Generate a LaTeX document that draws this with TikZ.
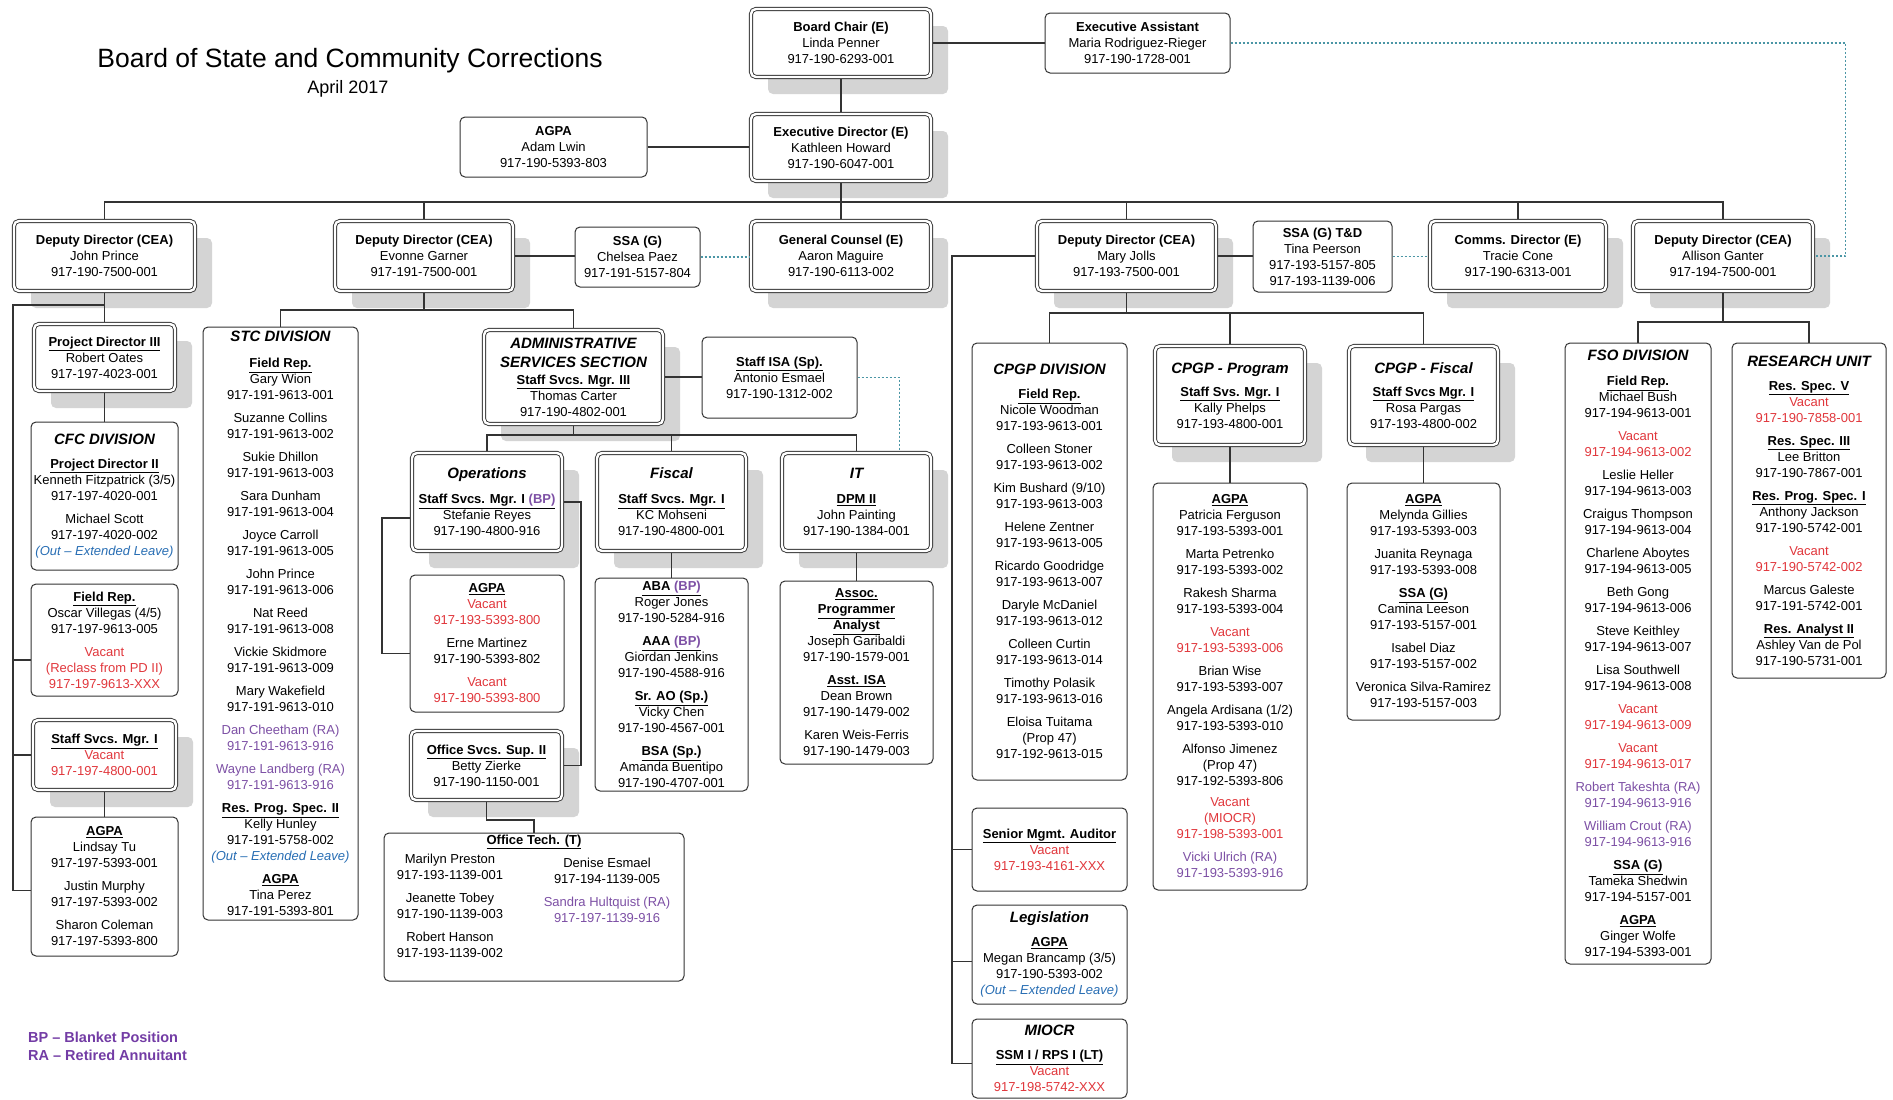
\documentclass[tikz,border=0pt]{standalone}
\usepackage{fontspec}
\setmainfont{Liberation Sans}
\usetikzlibrary{shadows}
\definecolor{vacred}{RGB}{225,55,60}
\definecolor{rapurple}{RGB}{125,80,165}
\definecolor{leaveblue}{RGB}{40,110,180}
\definecolor{linkteal}{RGB}{75,150,165}
\definecolor{legpurple}{RGB}{115,60,165}
\definecolor{shadowgray}{RGB}{212,212,212}
\newcommand\bodyfont{\fontsize{13}{16}\selectfont}
\newcommand\bh[1]{\textbf{#1}}
\newcommand\hd[1]{\underline{\textbf{#1}}}
\newcommand\ttl[1]{{\fontsize{15}{16}\selectfont\bfseries\itshape #1}}
\newcommand\vac[1]{\textcolor{vacred}{#1}}
\newcommand\ret[1]{\textcolor{rapurple}{#1}}
\newcommand\outleave{\textcolor{leaveblue}{\itshape (Out -- Extended Leave)}}
\tikzset{
  orgbox/.style 2 args={draw=black!80, line width=1pt, rounded corners=5pt, fill=white,
    align=center, inner sep=1pt, minimum width=#1, minimum height=#2, font=\bodyfont},
  dblbox/.style 2 args={orgbox={#1-4}{#2-4}, double=white, double distance=2.4pt,
    line width=0.9pt, outer sep=2.1pt,
    drop shadow={shadow xshift=17pt, shadow yshift=-17pt, fill=shadowgray, opacity=1}},
  txt/.style={align=center, inner sep=0pt, font=\bodyfont},
  legend/.style={anchor=base west, inner sep=0pt, text=legpurple,
    font=\fontsize{14.5}{17}\selectfont\bfseries},
  conn/.style={draw=black!80, line width=1.3pt},
  dotlink/.style={draw=linkteal, line width=1.3pt, dash pattern=on 2pt off 2pt},
}
\begin{document}
\begin{tikzpicture}[x=1pt,y=-1pt]
	\fill[white] (0,0) rectangle (1893,1100);
	\useasboundingbox (0,0) rectangle (1893,1100);
	\node[anchor=base, inner sep=0pt, font=\fontsize{26.5}{30}\selectfont] at (350,67) (title) {Board of State and Community Corrections};
	\node[anchor=base, inner sep=0pt, font=\fontsize{18}{20}\selectfont] at (348,93) (date) {April 2017};
	\node[legend] at (28,1042) (bp) {BP -- Blanket Position};
	\node[legend] at (28,1060) (ra) {RA -- Retired Annuitant};

	\node[dblbox={184}{72}] at (841,43) (bc) {\bh{Board Chair (E)}\\Linda Penner\\917-190-6293-001};
	\node[orgbox={185}{60}] at (1137.5,43) (ea) {\bh{Executive Assistant}\\Maria Rodriguez-Rieger\\917-190-1728-001};
	\node[dblbox={184}{71}] at (841,147.5) (ed) {\bh{Executive Director (E)}\\Kathleen Howard\\917-190-6047-001};
	\node[orgbox={187}{60}] at (553.5,147) (agpa0) {\bh{AGPA}\\Adam Lwin\\917-190-5393-803};

	\node[dblbox={185}{74}] at (104.5,256) (dd1) {\bh{Deputy Director (CEA)}\\John Prince\\917-190-7500-001};
	\node[dblbox={182}{74}] at (424,256) (dd2) {\bh{Deputy Director (CEA)}\\Evonne Garner\\917-191-7500-001};
	\node[orgbox={125}{60}] at (637.5,257) (ssa) {\bh{SSA (G)}\\Chelsea Paez\\917-191-5157-804};
	\node[dblbox={184}{74}] at (841,256) (gc) {\bh{General Counsel (E)}\\Aaron Maguire\\917-190-6113-002};
	\node[dblbox={183}{74}] at (1126.5,256) (dd3) {\bh{Deputy Director (CEA)}\\Mary Jolls\\917-193-7500-001};
	\node[orgbox={139}{71}] at (1322.5,256.5) (td) {\bh{SSA (G) T\&D}\\Tina Peerson\\917-193-5157-805\\917-193-1139-006};
	\node[dblbox={180}{74}] at (1518,256) (cd) {\bh{Comms. Director (E)}\\Tracie Cone\\917-190-6313-001};
	\node[dblbox={184}{74}] at (1723,256) (dd4) {\bh{Deputy Director (CEA)}\\Allison Ganter\\917-194-7500-001};

	\node[dblbox={145}{71}] at (104.5,357.5) (pd3) {\hd{Project Director III}\\Robert Oates\\917-197-4023-001};
	\node[orgbox={147}{148}] at (104.5,496) (cfc) {\ttl{CFC DIVISION}\\[8pt]\hd{Project Director II}\\Kenneth Fitzpatrick (3/5)\\917-197-4020-001\\[7pt]Michael Scott\\917-197-4020-002\\\outleave};
	\node[orgbox={147}{112}] at (104.5,640) (fr) {\hd{Field Rep.}\\Oscar Villegas (4/5)\\917-197-9613-005\\[7pt]\vac{Vacant}\\\vac{(Reclass from PD II)}\\\vac{917-197-9613-XXX}};
	\node[dblbox={147}{74}] at (104.5,755) (ssm) {\hd{Staff Svcs. Mgr. I}\\\vac{Vacant}\\\vac{917-197-4800-001}};
	\node[orgbox={147}{139}] at (104.5,886.5) (agpa1) {\hd{AGPA}\\Lindsay Tu\\917-197-5393-001\\[7pt]Justin Murphy\\917-197-5393-002\\[7pt]Sharon Coleman\\917-197-5393-800};

	\node[orgbox={155}{593}] at (280.5,623.5) (stc) {\ttl{STC DIVISION}\\[10pt]\hd{Field Rep.}\\Gary Wion\\917-191-9613-001\\[7pt]Suzanne Collins\\917-191-9613-002\\[7pt]Sukie Dhillon\\917-191-9613-003\\[7pt]Sara Dunham\\917-191-9613-004\\[7pt]Joyce Carroll\\917-191-9613-005\\[7pt]John Prince\\917-191-9613-006\\[7pt]Nat Reed\\917-191-9613-008\\[7pt]Vickie Skidmore\\917-191-9613-009\\[7pt]Mary Wakefield\\917-191-9613-010\\[7pt]\ret{Dan Cheetham (RA)}\\\ret{917-191-9613-916}\\[7pt]\ret{Wayne Landberg (RA)}\\\ret{917-191-9613-916}\\[7pt]\hd{Res. Prog. Spec. II}\\Kelly Hunley\\917-191-5758-002\\\outleave\\[7pt]\hd{AGPA}\\Tina Perez\\917-191-5393-801};

	\node[dblbox={183}{98}] at (573.5,377) (adm) {\ttl{ADMINISTRATIVE}\\[3pt]\ttl{SERVICES SECTION}\\[1pt]\hd{Staff Svcs. Mgr. III}\\Thomas Carter\\917-190-4802-001};
	\node[orgbox={155}{81}] at (779.5,377.5) (isa) {\hd{Staff ISA (Sp).}\\Antonio Esmael\\917-190-1312-002};
	\node[dblbox={154}{102}] at (487,502) (ops) {\ttl{Operations}\\[9pt]\hd{Staff Svcs. Mgr. I \ret{(BP)}}\\Stefanie Reyes\\917-190-4800-916};
	\node[dblbox={153}{102}] at (671.5,502) (fis) {\ttl{Fiscal}\\[9pt]\hd{Staff Svcs. Mgr. I}\\KC Mohseni\\917-190-4800-001};
	\node[dblbox={153}{102}] at (856.5,502) (it) {\ttl{IT}\\[9pt]\hd{DPM II}\\John Painting\\917-190-1384-001};
	\node[orgbox={154}{137}] at (487,643.5) (opsa) {\hd{AGPA}\\\vac{Vacant}\\\vac{917-193-5393-800}\\[7pt]Erne Martinez\\917-190-5393-802\\[7pt]\vac{Vacant}\\\vac{917-190-5393-800}};
	\node[orgbox={153}{213}] at (671.5,684.5) (fisl) {\hd{ABA \ret{(BP)}}\\Roger Jones\\917-190-5284-916\\[7pt]\hd{AAA \ret{(BP)}}\\Giordan Jenkins\\917-190-4588-916\\[7pt]\hd{Sr. AO (Sp.)}\\Vicky Chen\\917-190-4567-001\\[7pt]\hd{BSA (Sp.)}\\Amanda Buentipo\\917-190-4707-001};
	\node[orgbox={153}{183}] at (856.5,672.5) (itl) {\hd{Assoc.}\\\hd{Programmer}\\\hd{Analyst}\\Joseph Garibaldi\\917-190-1579-001\\[7pt]\hd{Asst. ISA}\\Dean Brown\\917-190-1479-002\\[7pt]Karen Weis-Ferris\\917-190-1479-003};
	\node[dblbox={155}{73}] at (486.5,765.5) (osup) {\hd{Office Svcs. Sup. II}\\Betty Zierke\\917-190-1150-001};
	\node[orgbox={300}{148}] at (534,907) (otech) {};
	\node[txt] at (534,842) (otech-h) {\hd{Office Tech. (T)}};
	\node[txt] at (450,906) (otech-l) {Marilyn Preston\\917-193-1139-001\\[7pt]Jeanette Tobey\\917-190-1139-003\\[7pt]Robert Hanson\\917-193-1139-002};
	\node[txt] at (607,890) (otech-r) {Denise Esmael\\917-194-1139-005\\[7pt]\ret{Sandra Hultquist (RA)}\\\ret{917-197-1139-916}};

	\node[orgbox={155}{437}] at (1049.5,561.5) (cpgp) {\ttl{CPGP DIVISION}\\[8pt]\hd{Field Rep.}\\Nicole Woodman\\917-193-9613-001\\[7pt]Colleen Stoner\\917-193-9613-002\\[7pt]Kim Bushard (9/10)\\917-193-9613-003\\[7pt]Helene Zentner\\917-193-9613-005\\[7pt]Ricardo Goodridge\\917-193-9613-007\\[7pt]Daryle McDaniel\\917-193-9613-012\\[7pt]Colleen Curtin\\917-193-9613-014\\[7pt]Timothy Polasik\\917-193-9613-016\\[7pt]Eloisa Tuitama\\(Prop 47)\\917-192-9613-015};
	\node[dblbox={154}{103}] at (1230,395.5) (prg) {\ttl{CPGP - Program}\\[7pt]\hd{Staff Svs. Mgr. I}\\Kally Phelps\\917-193-4800-001};
	\node[orgbox={154}{407}] at (1230,686.5) (prgl) {\hd{AGPA}\\Patricia Ferguson\\917-193-5393-001\\[7pt]Marta Petrenko\\917-193-5393-002\\[7pt]Rakesh Sharma\\917-193-5393-004\\[7pt]\vac{Vacant}\\\vac{917-193-5393-006}\\[7pt]Brian Wise\\917-193-5393-007\\[7pt]Angela Ardisana (1/2)\\917-193-5393-010\\[7pt]Alfonso Jimenez\\(Prop 47)\\917-192-5393-806\\[5pt]\vac{Vacant}\\\vac{(MIOCR)}\\\vac{917-198-5393-001}\\[7pt]\ret{Vicki Ulrich (RA)}\\\ret{917-193-5393-916}};
	\node[dblbox={153}{103}] at (1423.5,395.5) (cfis) {\ttl{CPGP - Fiscal}\\[7pt]\hd{Staff Svcs Mgr. I}\\Rosa Pargas\\917-193-4800-002};
	\node[orgbox={153}{237}] at (1423.5,601.5) (cfisl) {\hd{AGPA}\\Melynda Gillies\\917-193-5393-003\\[7pt]Juanita Reynaga\\917-193-5393-008\\[7pt]\hd{SSA (G)}\\Camina Leeson\\917-193-5157-001\\[7pt]Isabel Diaz\\917-193-5157-002\\[7pt]Veronica Silva-Ramirez\\917-193-5157-003};
	\node[orgbox={155}{83}] at (1049.5,849.5) (sma) {\hd{Senior Mgmt. Auditor}\\\vac{Vacant}\\\vac{917-193-4161-XXX}};
	\node[orgbox={155}{99}] at (1049.5,954.5) (leg) {\ttl{Legislation}\\[8pt]\hd{AGPA}\\Megan Brancamp (3/5)\\917-190-5393-002\\\outleave};
	\node[orgbox={155}{79}] at (1049.5,1058.5) (mio) {\ttl{MIOCR}\\[8pt]\hd{SSM I / RPS I (LT)}\\\vac{Vacant}\\\vac{917-198-5742-XXX}};

	\node[orgbox={146}{621}] at (1638,653.5) (fso) {\ttl{FSO DIVISION}\\[9pt]\hd{Field Rep.}\\Michael Bush\\917-194-9613-001\\[7pt]\vac{Vacant}\\\vac{917-194-9613-002}\\[7pt]Leslie Heller\\917-194-9613-003\\[7pt]Craigus Thompson\\917-194-9613-004\\[7pt]Charlene Aboytes\\917-194-9613-005\\[7pt]Beth Gong\\917-194-9613-006\\[7pt]Steve Keithley\\917-194-9613-007\\[7pt]Lisa Southwell\\917-194-9613-008\\[7pt]\vac{Vacant}\\\vac{917-194-9613-009}\\[7pt]\vac{Vacant}\\\vac{917-194-9613-017}\\[7pt]\ret{Robert Takeshta (RA)}\\\ret{917-194-9613-916}\\[7pt]\ret{William Crout (RA)}\\\ret{917-194-9613-916}\\[7pt]\hd{SSA (G)}\\Tameka Shedwin\\917-194-5157-001\\[7pt]\hd{AGPA}\\Ginger Wolfe\\917-194-5393-001};
	\node[orgbox={154}{335}] at (1809,510.5) (res) {\ttl{RESEARCH UNIT}\\[8pt]\hd{Res. Spec. V}\\\vac{Vacant}\\\vac{917-190-7858-001}\\[7pt]\hd{Res. Spec. III}\\Lee Britton\\917-190-7867-001\\[7pt]\hd{Res. Prog. Spec. I}\\Anthony Jackson\\917-190-5742-001\\[7pt]\vac{Vacant}\\\vac{917-190-5742-002}\\[7pt]Marcus Galeste\\917-191-5742-001\\[7pt]\hd{Res. Analyst II}\\Ashley Van de Pol\\917-190-5731-001};

	\coordinate (bar1) at (841,202);
	\coordinate (bar2) at (424,310);
	\coordinate (bar3) at (573.5,435);
	\coordinate (bar4) at (1126.5,313);
	\coordinate (bar5) at (1723,322);
	\coordinate (rail1) at (13,305);
	\coordinate (rail2) at (952,256);
	\coordinate (frj) at ([yshift=-20pt]fr.west);
	\coordinate (legj) at ([yshift=-7pt]leg.west);

	\draw[conn] (bc) -- (ed);
	\draw[conn] (bc) -- (ea);
	\draw[conn] (agpa0.east) -- (agpa0.east -| ed.west);
	\draw[conn] (ed) -- (gc);
	\draw[conn] (dd1.north) |- (bar1) -| (dd4.north);
	\foreach \n in {dd2,dd3,cd}
		\draw[conn] (\n.north) -- (\n.north |- bar1);
	\draw[conn] (dd2.east) -- (dd2.east -| ssa.west);
	\draw[dotlink] (ssa.east) -- (ssa.east -| gc.west);
	\draw[conn] (dd3.east) -- (dd3.east -| td.west);
	\draw[dotlink] (td.east) -- (td.east -| cd.west);
	\draw[dotlink] (ea.east) -- ++(615,0) |- (dd4.east);

	\draw[conn] (dd1) -- (pd3);
	\draw[conn] (pd3) -- (cfc);
	\draw[conn] (ssm) -- (agpa1);
	\draw[conn] (rail1 -| dd1.south) -- (rail1) |- ([yshift=-4pt]agpa1.west);
	\draw[conn] (rail1 |- ssm.west) -- (ssm.west);
	\draw[conn] (frj -| rail1) -- (frj);

	\draw[conn] (dd2.south) -- (bar2);
	\draw[conn] (stc.north) |- (bar2) -| (adm.north);
	\draw[conn] (adm.east) -- (adm.east -| isa.west);
	\draw[dotlink] (isa.east) -| ([xshift=43pt]it.north);
	\draw[conn] (adm.south) -- (bar3);
	\draw[conn] (ops.north) |- (bar3) -| (it.north);
	\draw[conn] (fis.north) -- (fis.north |- bar3);
	\draw[conn] ([yshift=-16pt]ops.west) -- ++(-28,0) |- ([yshift=-10pt]opsa.west);
	\draw[conn] (ops.east) -- ++(17,0) |- (osup.east);
	\draw[conn] (fis) -- (fisl);
	\draw[conn] (it) -- (itl);
	\draw[conn] (osup.south) -- ++(0,18) -| (otech.north);

	\draw[conn] (dd3.south) -- (bar4);
	\draw[conn] (cpgp.north) |- (bar4) -| (cfis.north);
	\draw[conn] (prg.north) -- (prg.north |- bar4);
	\draw[conn] (prg) -- (prgl);
	\draw[conn] (cfis) -- (cfisl);
	\draw[conn] (dd3.west) -- (rail2) |- ([yshift=-5pt]mio.west);
	\draw[conn] (rail2 |- sma.west) -- (sma.west);
	\draw[conn] (legj -| rail2) -- (legj);

	\draw[conn] (dd4.south) -- (bar5);
	\draw[conn] (fso.north) |- (bar5) -| (res.north);
\end{tikzpicture}
\end{document}
